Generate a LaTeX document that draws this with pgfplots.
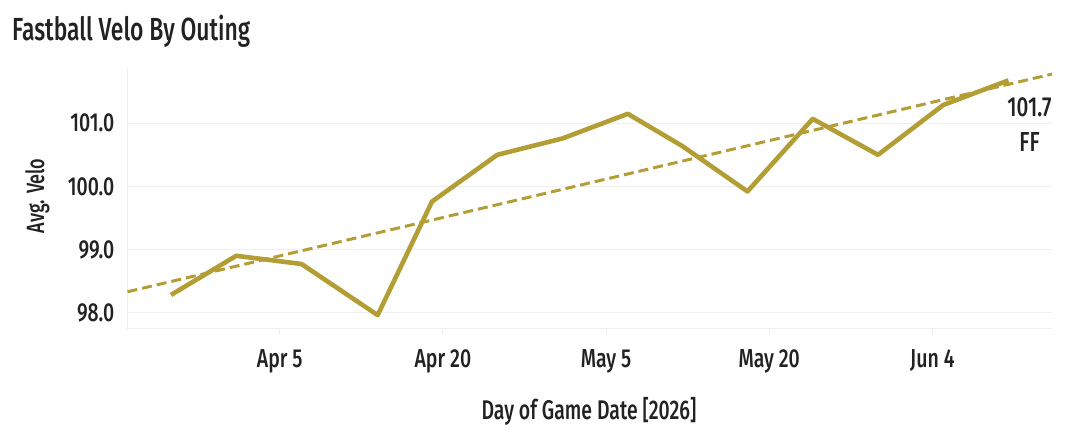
\documentclass[border=0pt]{standalone}
\usepackage{fontspec}
\setmainfont{Fira Sans Medium}[FakeStretch=0.72]
\newfontfamily\titlefont{Fira Sans Medium}[FakeStretch=0.715]
\newfontfamily\tickfont{Fira Sans Medium}[FakeStretch=0.75]
\usepackage{pgfplots}
\pgfplotsset{compat=1.18}
\definecolor{gold}{HTML}{B39E36}
\definecolor{txt}{HTML}{222222}
\definecolor{gridc}{HTML}{EFEFEF}
\pgfplotstableread{
d v
-10 98.28
-4 98.90
2 98.77
9 97.96
14 99.76
20 100.50
26 100.76
32 101.15
37 100.64
43 99.92
49 101.07
55 100.50
61 101.29
67 101.68
}\velo
\begin{document}
\begin{tikzpicture}[x=1pt,y=1pt]
\path[use as bounding box] (0,0) rectangle (1066,434);
\begin{axis}[
  at={(127.5pt,105pt)}, anchor=south west, scale only axis,
  width=924.5pt, height=261pt,
  xmin=-14, xmax=71, ymin=97.74, ymax=101.876,
  axis lines*=left,
  axis line style={gridc, line width=1pt},
  xtick={0,15,30,45,60},
  xticklabels={Apr 5,Apr 20,May 5,May 20,Jun 4},
  ytick={98,99,100,101},
  yticklabels={98.0,99.0,100.0,101.0},
  ymajorgrids,
  grid style={gridc, line width=1pt},
  tick align=outside,
  major tick length=5pt,
  x tick style={gridc, line width=1pt},
  y tick style={draw=none},
  ticklabel style={font=\tickfont\fontsize{26}{26}\selectfont, text=txt},
  xticklabel style={anchor=base, yshift=-33pt},
  yticklabel style={anchor=east, inner sep=0pt, xshift=-8pt},
  clip=false,
]
\addplot[gold, line width=3pt, dash pattern=on 10pt off 5pt] coordinates {(-14,98.33) (71,101.78)};
\addplot[gold, line width=4.6pt, line join=round] table[x=d,y=v] {\velo};
\end{axis}
\node[anchor=base west, text=txt, inner sep=0pt, font=\titlefont\fontsize{32}{32}\selectfont] at (12,393.3) {Fastball Velo By Outing};
\node[anchor=base, text=txt, inner sep=0pt, font=\fontsize{27}{27}\selectfont] at (589,14.5) {Day of Game Date [2026]};
\node[anchor=base, rotate=90, text=txt, inner sep=0pt, font=\fontsize{25}{25}\selectfont] at (44,238) {Avg. Velo};
\node[anchor=base, text=txt, inner sep=0pt, font=\tickfont\fontsize{27.5}{27.5}\selectfont] at (1029.5,317) {101.7};
\node[anchor=base, text=txt, inner sep=0pt, font=\tickfont\fontsize{27.5}{27.5}\selectfont] at (1029.5,282) {FF};
\end{tikzpicture}
\end{document}
